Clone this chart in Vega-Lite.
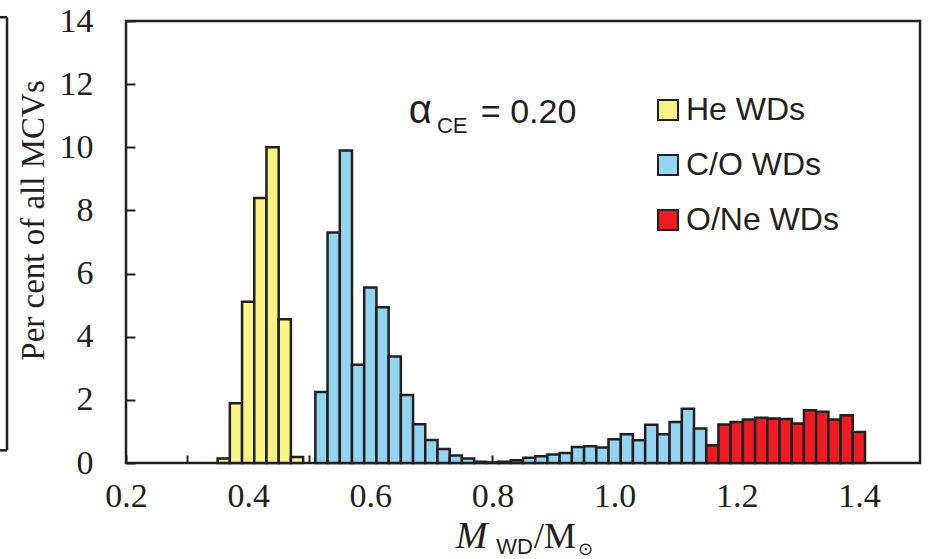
{
  "$schema": "https://vega.github.io/schema/vega-lite/v6.json",
  "autosize": "none",
  "width": 794,
  "height": 442,
  "padding": {"left": 126, "top": 21, "right": 10, "bottom": 96},
  "background": "white",
  "config": {
    "view": {"stroke": "#231f20", "strokeWidth": 2.5},
    "axis": {"domain": false, "grid": false, "tickColor": "#231f20", "tickWidth": 2, "labelColor": "#231f20", "titleColor": "#231f20", "labelFont": "Liberation Serif", "titleFont": "Liberation Serif", "labelFontSize": 34, "titleFontSize": 33, "titleFontWeight": "normal"}
  },
  "layer": [
    {
      "data": {"values": [
        {"type": "He WDs", "lo": 0.35, "hi": 0.37, "pct": 0.14},
        {"type": "He WDs", "lo": 0.37, "hi": 0.39, "pct": 1.89},
        {"type": "He WDs", "lo": 0.39, "hi": 0.41, "pct": 5.11},
        {"type": "He WDs", "lo": 0.41, "hi": 0.43, "pct": 8.39},
        {"type": "He WDs", "lo": 0.43, "hi": 0.45, "pct": 10.0},
        {"type": "He WDs", "lo": 0.45, "hi": 0.47, "pct": 4.55},
        {"type": "He WDs", "lo": 0.47, "hi": 0.49, "pct": 0.19},
        {"type": "C/O WDs", "lo": 0.51, "hi": 0.53, "pct": 2.25},
        {"type": "C/O WDs", "lo": 0.53, "hi": 0.55, "pct": 7.3},
        {"type": "C/O WDs", "lo": 0.55, "hi": 0.57, "pct": 9.9},
        {"type": "C/O WDs", "lo": 0.57, "hi": 0.59, "pct": 3.11},
        {"type": "C/O WDs", "lo": 0.59, "hi": 0.61, "pct": 5.56},
        {"type": "C/O WDs", "lo": 0.61, "hi": 0.63, "pct": 4.93},
        {"type": "C/O WDs", "lo": 0.63, "hi": 0.65, "pct": 3.37},
        {"type": "C/O WDs", "lo": 0.65, "hi": 0.67, "pct": 2.15},
        {"type": "C/O WDs", "lo": 0.67, "hi": 0.69, "pct": 1.23},
        {"type": "C/O WDs", "lo": 0.69, "hi": 0.71, "pct": 0.73},
        {"type": "C/O WDs", "lo": 0.71, "hi": 0.73, "pct": 0.44},
        {"type": "C/O WDs", "lo": 0.73, "hi": 0.75, "pct": 0.24},
        {"type": "C/O WDs", "lo": 0.75, "hi": 0.77, "pct": 0.14},
        {"type": "C/O WDs", "lo": 0.77, "hi": 0.79, "pct": 0.04},
        {"type": "C/O WDs", "lo": 0.79, "hi": 0.81, "pct": 0.02},
        {"type": "C/O WDs", "lo": 0.81, "hi": 0.83, "pct": 0.04},
        {"type": "C/O WDs", "lo": 0.83, "hi": 0.85, "pct": 0.09},
        {"type": "C/O WDs", "lo": 0.85, "hi": 0.87, "pct": 0.17},
        {"type": "C/O WDs", "lo": 0.87, "hi": 0.89, "pct": 0.21},
        {"type": "C/O WDs", "lo": 0.89, "hi": 0.91, "pct": 0.27},
        {"type": "C/O WDs", "lo": 0.91, "hi": 0.93, "pct": 0.32},
        {"type": "C/O WDs", "lo": 0.93, "hi": 0.95, "pct": 0.51},
        {"type": "C/O WDs", "lo": 0.95, "hi": 0.97, "pct": 0.53},
        {"type": "C/O WDs", "lo": 0.97, "hi": 0.99, "pct": 0.49},
        {"type": "C/O WDs", "lo": 0.99, "hi": 1.01, "pct": 0.75},
        {"type": "C/O WDs", "lo": 1.01, "hi": 1.03, "pct": 0.91},
        {"type": "C/O WDs", "lo": 1.03, "hi": 1.05, "pct": 0.72},
        {"type": "C/O WDs", "lo": 1.05, "hi": 1.07, "pct": 1.21},
        {"type": "C/O WDs", "lo": 1.07, "hi": 1.09, "pct": 0.91},
        {"type": "C/O WDs", "lo": 1.09, "hi": 1.11, "pct": 1.3},
        {"type": "C/O WDs", "lo": 1.11, "hi": 1.13, "pct": 1.72},
        {"type": "C/O WDs", "lo": 1.13, "hi": 1.15, "pct": 1.09},
        {"type": "O/Ne WDs", "lo": 1.15, "hi": 1.17, "pct": 0.56},
        {"type": "O/Ne WDs", "lo": 1.17, "hi": 1.19, "pct": 1.22},
        {"type": "O/Ne WDs", "lo": 1.19, "hi": 1.21, "pct": 1.3},
        {"type": "O/Ne WDs", "lo": 1.21, "hi": 1.23, "pct": 1.38},
        {"type": "O/Ne WDs", "lo": 1.23, "hi": 1.25, "pct": 1.43},
        {"type": "O/Ne WDs", "lo": 1.25, "hi": 1.27, "pct": 1.41},
        {"type": "O/Ne WDs", "lo": 1.27, "hi": 1.29, "pct": 1.39},
        {"type": "O/Ne WDs", "lo": 1.29, "hi": 1.31, "pct": 1.25},
        {"type": "O/Ne WDs", "lo": 1.31, "hi": 1.33, "pct": 1.67},
        {"type": "O/Ne WDs", "lo": 1.33, "hi": 1.35, "pct": 1.62},
        {"type": "O/Ne WDs", "lo": 1.35, "hi": 1.37, "pct": 1.38},
        {"type": "O/Ne WDs", "lo": 1.37, "hi": 1.39, "pct": 1.51},
        {"type": "O/Ne WDs", "lo": 1.39, "hi": 1.41, "pct": 0.98}
      ]},
      "mark": {"type": "rect", "stroke": "#231f20", "strokeWidth": 2.5, "opacity": 1},
      "encoding": {
        "x": {"field": "lo", "type": "quantitative",
          "scale": {"domain": [0.2, 1.5], "nice": false, "zero": false},
          "axis": {"title": null, "values": [0.2,0.25,0.3,0.35,0.4,0.45,0.5,0.55,0.6,0.65,0.7,0.75,0.8,0.85,0.9,0.95,1.0,1.05,1.1,1.15,1.2,1.25,1.3,1.35,1.4,1.45],
            "labelExpr": "abs(datum.value*5 - round(datum.value*5)) < 0.001 ? format(datum.value, '.1f') : ''",
            "tickSize": -8, "labelPadding": 24, "labelFlush": false, "labelOverlap": false}},
        "x2": {"field": "hi"},
        "y": {"field": "pct", "type": "quantitative",
          "scale": {"domain": [0, 14], "nice": false},
          "axis": {"title": "Per cent of all MCVs", "values": [0,1,2,3,4,5,6,7,8,9,10,11,12,13,14],
            "labelExpr": "datum.value % 2 == 0 ? datum.label : ''",
            "tickSize": -9, "labelPadding": 42, "labelOverlap": false,
            "titleX": -83, "titleY": 199, "titleAngle": -90, "titleAlign": "center", "titleBaseline": "alphabetic"}},
        "y2": {"datum": 0},
        "color": {"field": "type", "type": "nominal",
          "scale": {"domain": ["He WDs", "C/O WDs", "O/Ne WDs"], "range": ["#f7f384", "#94d4f0", "#ec1c24"]},
          "legend": {"title": null, "orient": "none", "legendX": 526, "legendY": 73,
            "symbolType": "square", "symbolSize": 400, "symbolStrokeColor": "#231f20", "symbolStrokeWidth": 2, "symbolOpacity": 1,
            "labelFont": "Liberation Sans", "labelFontSize": 32, "labelColor": "#231f20", "labelOffset": 2, "rowPadding": 23, "labelLimit": 300}}
      }
    },
    {
      "data": {"values": [{}]},
      "layer": [
        {
          "mark": {"type": "text", "text": "α", "font": "Liberation Sans", "fontSize": 40, "align": "left", "baseline": "alphabetic", "color": "#231f20"},
          "encoding": {"x": {"datum": 0.663}, "y": {"datum": 10.78}}
        },
        {
          "mark": {"type": "text", "text": "CE", "font": "Liberation Sans", "fontSize": 22, "align": "left", "baseline": "alphabetic", "color": "#231f20"},
          "encoding": {"x": {"datum": 0.709}, "y": {"datum": 10.46}}
        },
        {
          "mark": {"type": "text", "text": "= 0.20", "font": "Liberation Sans", "fontSize": 34, "align": "left", "baseline": "alphabetic", "color": "#231f20"},
          "encoding": {"x": {"datum": 0.781}, "y": {"datum": 10.78}}
        },
        {
          "mark": {"type": "text", "text": "M", "font": "Liberation Serif", "fontStyle": "italic", "fontSize": 38, "align": "left", "baseline": "alphabetic", "color": "#231f20"},
          "encoding": {"x": {"datum": 0.74}, "y": {"datum": -2.68}}
        },
        {
          "mark": {"type": "text", "text": "WD", "font": "Liberation Sans", "fontSize": 22, "align": "left", "baseline": "alphabetic", "color": "#231f20"},
          "encoding": {"x": {"datum": 0.806}, "y": {"datum": -2.88}}
        },
        {
          "mark": {"type": "text", "text": "/M", "font": "Liberation Serif", "fontSize": 36, "align": "left", "baseline": "alphabetic", "color": "#231f20"},
          "encoding": {"x": {"datum": 0.868}, "y": {"datum": -2.68}}
        },
        {
          "mark": {"type": "text", "text": "⊙", "font": "DejaVu Sans", "fontSize": 18, "align": "left", "baseline": "middle", "color": "#231f20"},
          "encoding": {"x": {"datum": 0.94}, "y": {"datum": -2.74}}
        },
        {
          "mark": {"type": "rule", "color": "#231f20", "strokeWidth": 2.5},
          "encoding": {"x": {"datum": 0.0052}, "y": {"datum": 14.12}, "y2": {"datum": 0.4}}
        },
        {
          "mark": {"type": "rule", "color": "#231f20", "strokeWidth": 2.5},
          "encoding": {"x": {"datum": -0.01}, "x2": {"datum": 0.0052}, "y": {"datum": 14.12}}
        },
        {
          "mark": {"type": "rule", "color": "#231f20", "strokeWidth": 2.5},
          "encoding": {"x": {"datum": -0.01}, "x2": {"datum": 0.0052}, "y": {"datum": 0.4}}
        }
      ]
    }
  ]
}
